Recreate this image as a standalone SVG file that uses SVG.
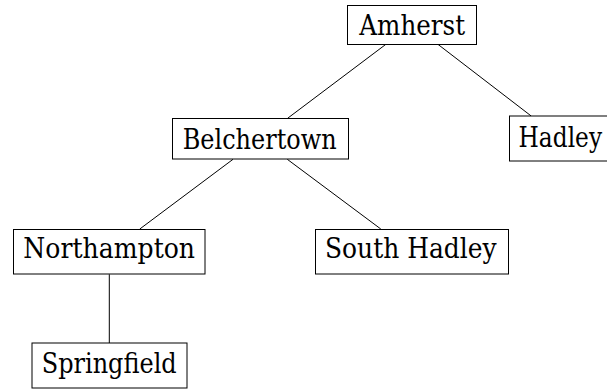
<svg xmlns="http://www.w3.org/2000/svg" width="607" height="390" viewBox="0 0 607 390">
<style>
.box{fill:#fff;stroke:#000;stroke-width:1}
.lbl{font-family:'DejaVu Serif','Liberation Serif',serif;font-size:27px;fill:#000;text-anchor:middle}
.edge{stroke:#000;stroke-width:1;fill:none}
</style>
<rect width="607" height="390" fill="#fff"/>
<g id="connectors">
<line class="edge" x1="385.9" y1="44.3" x2="287.6" y2="118.3"/>
<line class="edge" x1="437.9" y1="44.3" x2="531.2" y2="116"/>
<line class="edge" x1="233" y1="159.3" x2="139.8" y2="229"/>
<line class="edge" x1="287.3" y1="159.3" x2="380.8" y2="229"/>
<line class="edge" x1="109.3" y1="274.3" x2="109.3" y2="343"/>
</g>
<g id="amherst">
<rect class="box" x="347.5" y="5.5" width="129" height="39"/>
<text class="lbl" x="412.2" y="35" textLength="105.7" lengthAdjust="spacingAndGlyphs">Amherst</text>
</g>
<g id="hadley">
<rect class="box" x="509.5" y="116" width="102" height="45"/>
<text class="lbl" x="560.3" y="147" textLength="83.5" lengthAdjust="spacingAndGlyphs">Hadley</text>
</g>
<g id="belchertown">
<rect class="box" x="172.5" y="118.5" width="176" height="40.5"/>
<text class="lbl" x="259.7" y="149.3" textLength="154" lengthAdjust="spacingAndGlyphs">Belchertown</text>
</g>
<g id="northampton">
<rect class="box" x="13.5" y="229.5" width="191.5" height="44.5"/>
<text class="lbl" x="109.2" y="258.3" textLength="171.7" lengthAdjust="spacingAndGlyphs">Northampton</text>
</g>
<g id="south-hadley">
<rect class="box" x="315.5" y="229.5" width="193" height="44.5"/>
<text class="lbl" x="410.8" y="257.7" textLength="171.7" lengthAdjust="spacingAndGlyphs">South Hadley</text>
</g>
<g id="springfield">
<rect class="box" x="32" y="343" width="155" height="45"/>
<text class="lbl" x="109.2" y="372.7" textLength="135" lengthAdjust="spacingAndGlyphs">Springfield</text>
</g>
</svg>
